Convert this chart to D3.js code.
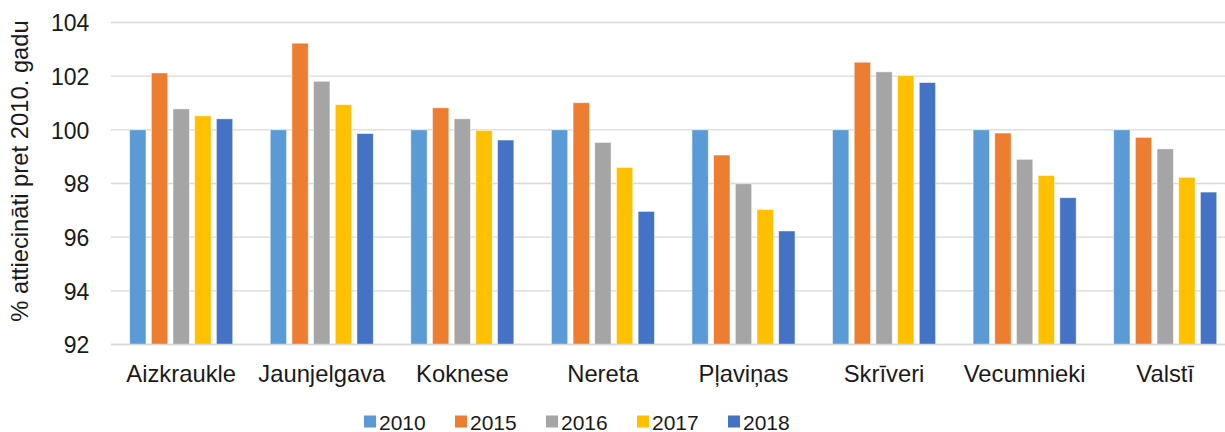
<!DOCTYPE html>
<html>
<head>
<meta charset="utf-8">
<script src="https://cdn.jsdelivr.net/npm/d3@7"></script>
<style>
  html, body { margin: 0; padding: 0; background: #fff; }
  svg { display: block; font-family: "Liberation Sans", Arial, sans-serif; }
</style>
</head>
<body>
<svg id="chart" width="1225" height="432"></svg>
<script>
const categories = ["Aizkraukle", "Jaunjelgava", "Koknese", "Nereta", "Pļaviņas", "Skrīveri", "Vecumnieki", "Valstī"];
const seriesNames = ["2010", "2015", "2016", "2017", "2018"];
const values2010 = [100, 100, 100, 100, 100, 100, 100, 100];
const values2015 = [102.12, 103.23, 100.82, 101.01, 99.06, 102.52, 99.88, 99.72];
const values2016 = [100.78, 101.81, 100.41, 99.53, 97.99, 102.16, 98.90, 99.29];
const values2017 = [100.52, 100.94, 99.98, 98.60, 97.03, 102.02, 98.30, 98.23];
const values2018 = [100.41, 99.86, 99.62, 96.96, 96.23, 101.76, 97.47, 97.68];
const yTicks = [92, 94, 96, 98, 100, 102, 104];
const colors = ["#5B9BD5", "#ED7D31", "#A5A5A5", "#FFC000", "#4472C4"];
const yTitle = "% attiecināti pret 2010. gadu";

const seriesValues = [values2010, values2015, values2016, values2017, values2018];

const svg = d3.select("#chart");
const plot = { left: 110.9, right: 1235.5, top: 22.5, bottom: 344.5 };

const y = d3.scaleLinear().domain([92, 104]).range([plot.bottom, plot.top]);
const x0 = d3.scaleBand().domain(categories).range([plot.left, plot.right])
  .paddingInner(0.267).paddingOuter(0.1335);
const x1 = d3.scaleBand().domain(seriesNames).range([0, x0.bandwidth()])
  .paddingInner(0.247).paddingOuter(0);

// gridlines
svg.append("g").selectAll("line").data(yTicks).join("line")
  .attr("x1", plot.left).attr("x2", plot.right)
  .attr("y1", d => y(d)).attr("y2", d => y(d))
  .attr("stroke", "#d9d9d9").attr("stroke-width", 1.3);

// y tick labels via axis
const yAxis = svg.append("g").attr("transform", `translate(${plot.left - 21.5},0)`)
  .call(d3.axisLeft(y).tickValues(yTicks).tickSize(0).tickPadding(0));
yAxis.select(".domain").remove();
yAxis.selectAll("text").attr("font-size", 23).attr("fill", "#1a1a1a")
  .attr("font-family", "'Liberation Sans', Arial, sans-serif").attr("dy", "0.36em");

// bars
const groups = svg.append("g").selectAll("g").data(categories).join("g")
  .attr("transform", c => `translate(${x0(c)},0)`);
groups.selectAll("rect").data((c, ci) => seriesNames.map((s, si) => ({ s, si, v: seriesValues[si][ci] })))
  .join("rect")
  .attr("x", d => x1(d.s))
  .attr("width", x1.bandwidth())
  .attr("y", d => y(d.v))
  .attr("height", d => y(92) - y(d.v))
  .attr("fill", d => colors[d.si])
  .attr("stroke", "#ffffff").attr("stroke-width", 0.8).attr("stroke-opacity", 0.6);

// baseline
svg.append("line").attr("x1", plot.left).attr("x2", plot.right)
  .attr("y1", y(92)).attr("y2", y(92))
  .attr("stroke", "#d9d9d9").attr("stroke-width", 1.3);

// x axis labels
const xAxis = svg.append("g").attr("transform", `translate(0,${plot.bottom})`)
  .call(d3.axisBottom(x0).tickSize(0).tickPadding(0));
xAxis.select(".domain").remove();
xAxis.selectAll("text").attr("font-size", 23.8).attr("fill", "#1a1a1a")
  .attr("font-family", "'Liberation Sans', Arial, sans-serif")
  .attr("dy", null).attr("y", 37.5);

// y title
svg.append("text")
  .attr("transform", "translate(28,171) rotate(-90)")
  .attr("text-anchor", "middle")
  .attr("font-size", 23.8).attr("fill", "#1a1a1a")
  .text(yTitle);

// legend
const legendX = d3.scalePoint().domain(seriesNames).range([364, 728]);
const leg = svg.append("g").selectAll("g").data(seriesNames).join("g")
  .attr("transform", d => `translate(${legendX(d)},0)`);
leg.append("rect").attr("x", 0).attr("y", 415.5).attr("width", 12).attr("height", 12)
  .attr("fill", (d, i) => colors[i]);
leg.append("text").attr("x", 15).attr("y", 429.5).attr("font-size", 21)
  .attr("fill", "#1a1a1a").text(d => d);
</script>
</body>
</html>
